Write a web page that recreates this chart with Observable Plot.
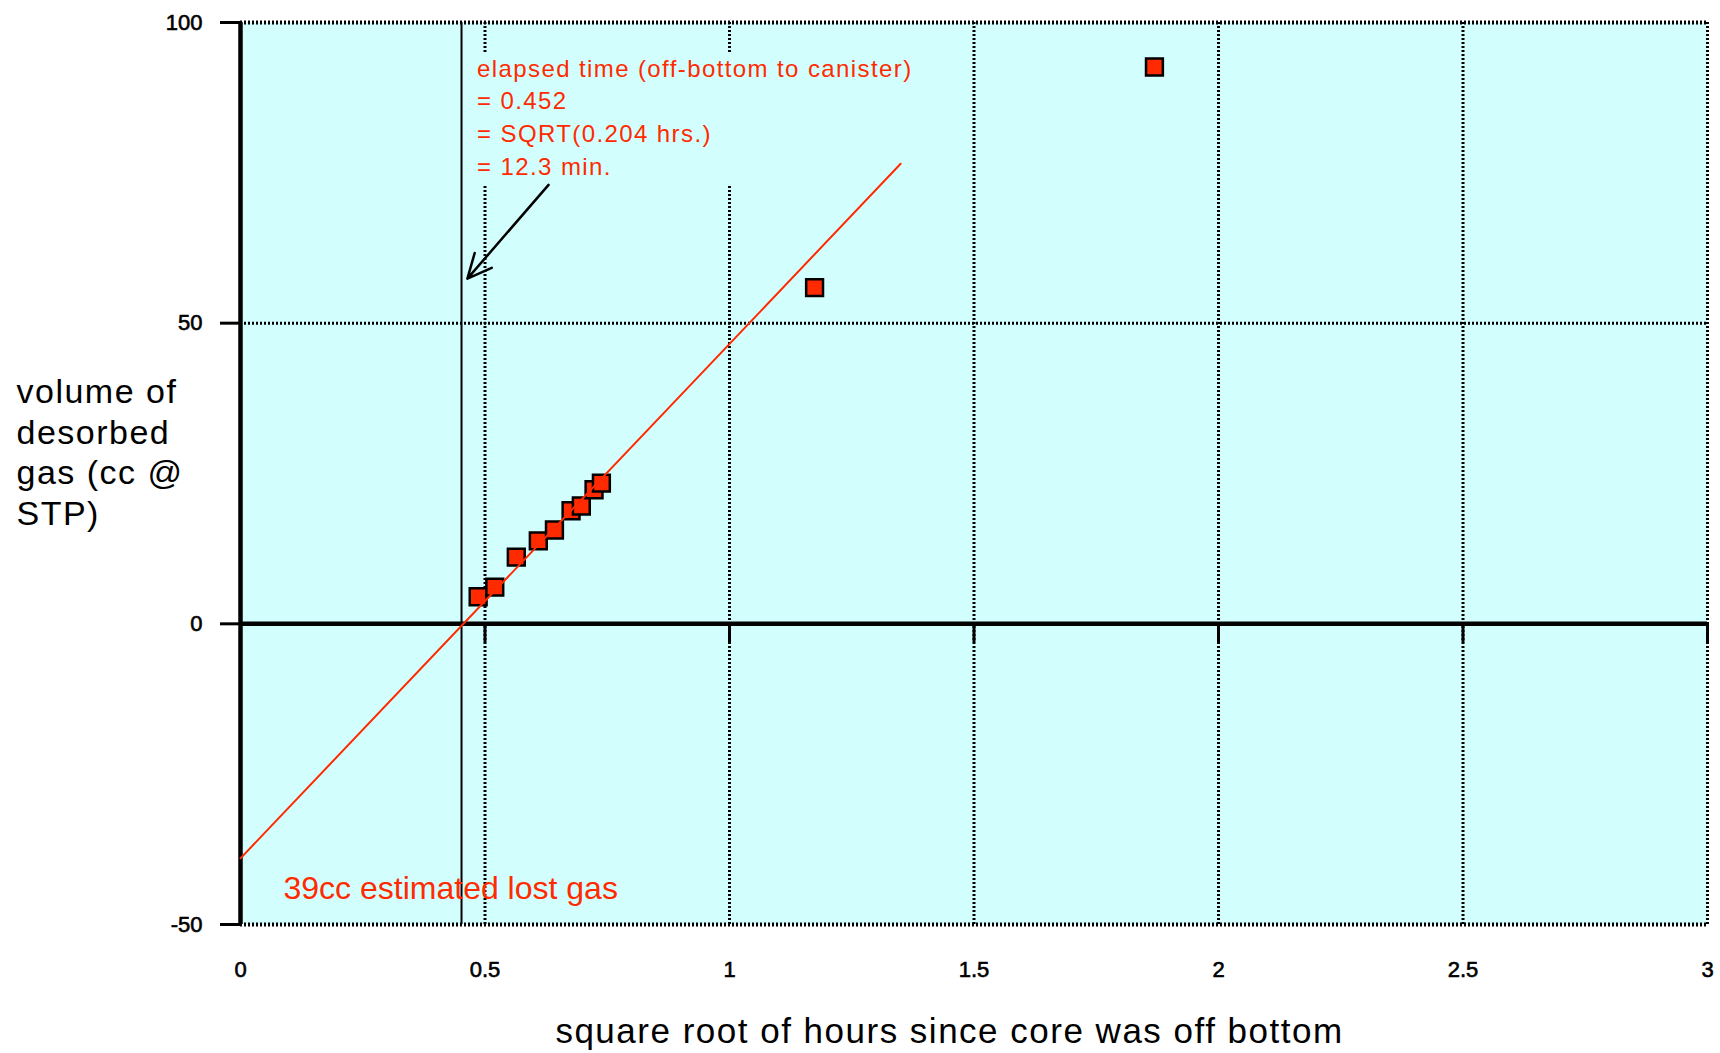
<!DOCTYPE html>
<html>
<head>
<meta charset="utf-8">
<script src="https://cdn.jsdelivr.net/npm/d3@7"></script>
<script src="https://cdn.jsdelivr.net/npm/@observablehq/plot@0.6"></script>
<style>
  html, body { margin: 0; padding: 0; background: #fff; }
  #chart svg { display: block; }
</style>
</head>
<body>
<div id="chart"></div>
<script>
// Canister desorption readings: square root of elapsed hours vs. cumulative gas volume
const sqrtHours = [0.486, 0.520, 0.564, 0.609, 0.642, 0.676, 0.697, 0.723, 0.738, 1.174, 1.869];
const volumeCc  = [4.5, 6.1, 11.1, 13.8, 15.6, 18.8, 19.6, 22.3, 23.4, 55.9, 92.6];

// Straight-line back-extrapolation of the early readings to time zero
const fitSqrtHours = [0, 1.35];
const fitVolumeCc  = [-39, 76.5];

// Time between the core leaving bottom and being sealed in the canister
const elapsedSqrtHours = 0.452;
const noteLines = [
  "elapsed time (off-bottom to canister)",
  "= 0.452",
  "= SQRT(0.204 hrs.)",
  "= 12.3 min."
];
const lostGasLabel = "39cc estimated lost gas";

// Pointer from the note down to the elapsed-time line
const pointerFrom = [0.630, 73.0];
const pointerTo   = [0.464, 57.4];

const xTicks = [0, 0.5, 1, 1.5, 2, 2.5, 3];
const yTicks = [-50, 0, 50, 100];
const xTitle = "square root of hours since core was off bottom";
const yTitleLines = ["volume of", "desorbed", "gas (cc @", "STP)"];

const panel = "#d3fefe";
const red = "#ff2a00";

const readings = sqrtHours.map((x, i) => ({x, y: volumeCc[i]}));
const fit = fitSqrtHours.map((x, i) => ({x, y: fitVolumeCc[i]}));
const pointer = [{x1: pointerFrom[0], y1: pointerFrom[1], x2: pointerTo[0], y2: pointerTo[1]}];
const innerX = xTicks.filter(d => d > 0);

const chart = Plot.plot({
  width: 1720,
  height: 1053,
  marginLeft: 240,
  marginRight: 13,
  marginTop: 22,
  marginBottom: 129,
  style: {fontFamily: "'Liberation Sans', Arial, Helvetica, sans-serif", background: "white", color: "black"},
  x: {domain: [0, 3]},
  y: {domain: [-50, 100]},
  marks: [
    Plot.frame({fill: panel}),
    // dotted grid and border
    Plot.ruleX(innerX, {stroke: "black", strokeWidth: 3, strokeDasharray: "2,2"}),
    Plot.ruleY([50], {stroke: "black", strokeWidth: 3, strokeDasharray: "2,2"}),
    Plot.ruleY([100, -50], {stroke: "black", strokeWidth: 4, strokeDasharray: "2,2"}),
    // elapsed-time marker
    Plot.ruleX([elapsedSqrtHours], {stroke: "black", strokeWidth: 2}),
    Plot.text([{x: elapsedSqrtHours, text: noteLines.join("\n")}], {
      x: "x", text: "text", frameAnchor: "top", dx: 15.5, dy: 152,
      lineAnchor: "bottom", textAnchor: "start", lineHeight: 1.36,
      fontSize: 24, fill: red
    }),
    Plot.arrow(pointer, {
      x1: "x1", y1: "y1", x2: "x2", y2: "y2",
      stroke: "black", strokeWidth: 2.5, headLength: 16, headAngle: 50
    }),
    Plot.text([lostGasLabel], {
      frameAnchor: "bottom-left", dx: 43, dy: -26, lineAnchor: "bottom",
      textAnchor: "start", fontSize: 32, fill: red
    }),
    // zero line with its small ticks, and the left axis line
    Plot.ruleY([0], {stroke: "black", strokeWidth: 4.5}),
    Plot.ruleX(innerX, {y1: 0, y2: 0, insetBottom: -19, stroke: "black", strokeWidth: 3}),
    Plot.ruleX([0], {stroke: "black", strokeWidth: 4.5}),
    // readings and fitted line
    Plot.dot(readings, {x: "x", y: "y", symbol: "square", r: 9.5, fill: red, stroke: "black", strokeWidth: 2.5}),
    Plot.line(fit, {x: "x", y: "y", stroke: red, strokeWidth: 2}),
    // axes
    Plot.axisY({ticks: yTicks, tickSize: 20, tickPadding: 18, fontSize: 22, strokeWidth: 3, label: null, tickFormat: d => `${d}`}),
    Plot.axisX({ticks: xTicks, tickSize: 0, tickPadding: 37, fontSize: 22, label: null, tickFormat: d => `${d}`}),
    Plot.text([yTitleLines.join("\n")], {
      frameAnchor: "left", dx: -224, dy: 51, lineAnchor: "bottom", textAnchor: "start",
      lineHeight: 1.19, fontSize: 34
    }),
    Plot.text([xTitle], {
      frameAnchor: "bottom", dx: -24.5, dy: 118, lineAnchor: "bottom",
      fontSize: 35
    })
  ]
});

document.getElementById("chart").append(chart);

// text elements whose content begins with the given string
function textsStartingWith(s) {
  return Array.from(chart.querySelectorAll("text")).filter(t => t.textContent.startsWith(s));
}

const noteTexts = textsStartingWith(noteLines[0]);
noteTexts.forEach(t => t.style.letterSpacing = "1.4px");
textsStartingWith(yTitleLines[0]).forEach(t => t.style.letterSpacing = "1.5px");
textsStartingWith(xTitle).forEach(t => t.style.letterSpacing = "1.5px");

// slightly heavier tick numerals
const tickStrings = new Set([...xTicks, ...yTicks].map(d => `${d}`));
Array.from(chart.querySelectorAll("text"))
  .filter(t => tickStrings.has(t.textContent))
  .forEach(t => {
    t.style.stroke = "black";
    t.style.strokeWidth = "0.6px";
  });

// opaque panel behind the note so the grid does not run through it
noteTexts.forEach(t => {
  const bb = t.getBBox();
  const rect = document.createElementNS("http://www.w3.org/2000/svg", "rect");
  const tr = t.getAttribute("transform");
  if (tr) rect.setAttribute("transform", tr);
  rect.setAttribute("x", bb.x - 6);
  rect.setAttribute("y", bb.y - 1);
  rect.setAttribute("width", bb.width + 12);
  rect.setAttribute("height", bb.height + 6);
  rect.setAttribute("fill", panel);
  rect.setAttribute("stroke", "none");
  t.parentNode.insertBefore(rect, t);
});
</script>
</body>
</html>
